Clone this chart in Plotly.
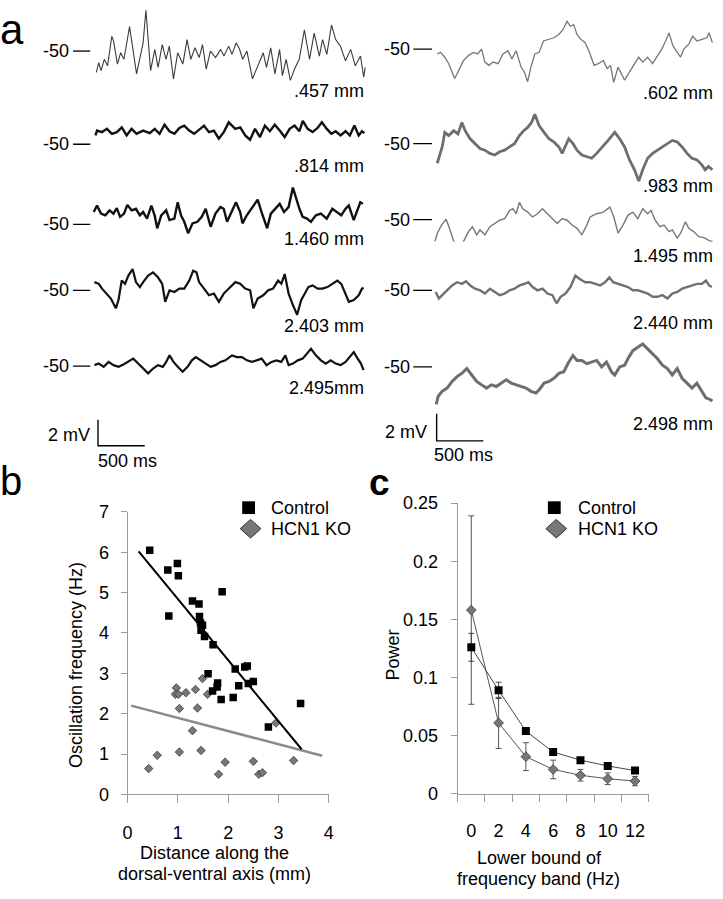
import plotly.graph_objects as go

W, H = 723, 899
FONT = "Liberation Sans, Arial, sans-serif"

# ---------------- panel a: membrane potential traces (time in ms, mV relative to -50 mV) ----------------
L457_t = [10,35,60,95,130,175,195,235,270,305,365,400,440,480,510,540,565,590,635,670,715,755,790,835,880,935,980,1020,1065,1110,1145,1185,1230,1285,1340,1375,1425,1460,1505,1540,1575,1620,1680,1740,1795,1830,1875,1920,1970,2000,2040,2085,2130,2180,2235,2290,2340,2395,2430,2475,2525,2570,2620,2675,2730,2780,2835,2870,2885]
L457_v = [-1.63,-0.88,-1.5,-0.63,-1.13,1.13,0.75,-1.0,-0.13,-0.63,1.88,0.13,-1.75,-0.38,0.63,3.13,0.38,-1.5,0.13,-1.25,0.5,-0.63,0.38,-2.13,-0.13,-1.0,0.88,-0.63,0.25,-0.5,0.5,-1.38,0.0,-0.5,0.13,-0.38,0.38,-0.25,0.63,0.18,-0.63,0.0,-2.13,-1.13,-0.13,-1.25,0.25,-1.75,0.13,-1.88,-0.63,-2.25,-1.38,-0.63,1.63,-0.63,1.38,-0.38,0.88,-0.25,2.0,0.88,0.38,-0.75,0.13,-1.13,-0.38,-2.0,-1.25]

L814_t = [0,18,70,123,176,229,282,334,387,440,510,581,634,686,739,792,845,898,950,1003,1056,1109,1162,1214,1267,1320,1373,1426,1496,1549,1602,1654,1707,1760,1813,1866,1918,1971,2024,2077,2130,2182,2218,2270,2323,2376,2422,2475,2524,2570,2622,2675,2721,2770,2816,2851,2876]
L814_v = [0.68,1.05,0.93,1.18,0.8,0.93,1.3,0.68,1.18,0.8,1.05,0.85,1.18,0.8,1.5,1.0,0.8,1.25,1.43,1.05,0.8,1.1,1.43,0.93,1.05,0.43,0.93,1.68,1.18,1.3,0.68,0.35,1.18,0.55,1.43,1.0,1.5,1.05,0.55,1.18,1.43,1.0,1.8,1.18,0.93,1.25,1.68,1.18,0.8,1.0,0.68,1.0,0.68,1.43,0.68,1.0,0.85]

L1460_t = [0,35,77,123,169,211,246,282,324,359,405,451,493,528,570,616,651,679,722,774,810,862,898,933,968,1010,1056,1109,1155,1197,1250,1302,1355,1390,1426,1478,1521,1566,1591,1637,1697,1753,1795,1855,1894,1936,1989,2035,2084,2130,2165,2200,2235,2281,2323,2376,2429,2492,2552,2605,2647,2693,2728,2781,2823,2851,2879]
L1460_v = [0.95,1.45,0.83,0.7,1.08,0.83,1.25,0.58,0.83,1.5,1.08,1.2,0.7,0.95,0.45,1.45,0.7,-0.3,0.7,1.08,0.33,0.45,1.7,0.7,0.2,-0.68,0.08,0.2,0.58,1.2,-0.18,0.83,1.33,1.2,0.2,1.08,1.7,0.95,0.08,0.7,1.33,1.9,0.95,-0.3,0.83,1.2,1.58,0.95,1.33,2.83,1.95,1.2,0.58,0.45,0.2,0.7,0.83,0.45,1.2,0.95,0.7,1.2,1.45,0.33,1.08,1.7,1.58]

L2403_t = [0,46,81,134,176,229,257,292,327,363,408,444,486,521,574,627,679,725,757,803,855,908,961,1014,1056,1091,1119,1172,1225,1278,1331,1383,1454,1507,1559,1612,1665,1700,1746,1806,1859,1911,1964,1999,2035,2077,2123,2168,2211,2253,2288,2334,2387,2439,2492,2545,2598,2640,2686,2721,2774,2826,2862,2879]
L2403_v = [0.63,0.5,0.13,-0.25,-0.63,-1.38,-0.75,0.75,0.5,1.13,1.63,0.63,0.25,0.63,1.13,1.38,1.0,0.5,-0.88,0.0,-0.13,0.13,0.13,0.75,1.5,1.38,0.63,0.13,-0.38,-0.25,-0.88,-0.25,0.25,0.63,0.5,0.13,0.0,-1.38,-0.63,-0.38,0.0,0.13,0.75,0.5,1.25,-0.25,-1.13,-1.88,-0.75,-0.25,0.25,0.38,0.13,0.13,0.25,0.5,0.75,0.5,-0.25,-0.88,-0.75,-0.38,0.13,0.2]

L2495_t = [0,46,99,151,204,257,310,363,415,468,521,574,627,679,732,767,803,845,891,943,996,1042,1084,1137,1190,1243,1295,1348,1401,1471,1524,1577,1630,1683,1735,1788,1841,1894,1947,1999,2042,2077,2123,2175,2228,2274,2316,2369,2422,2475,2527,2580,2633,2686,2732,2774,2816,2851,2879]
L2495_v = [0.08,0.2,-0.05,0.33,0.08,-0.05,0.13,0.33,0.58,0.2,-0.18,-0.55,-0.18,0.08,-0.05,0.33,0.83,0.33,-0.05,-0.43,-0.05,0.45,0.7,0.45,0.2,-0.05,0.08,0.33,0.45,0.83,0.7,0.7,0.45,0.33,0.45,0.58,0.08,0.33,0.45,0.33,0.83,0.08,0.2,0.45,0.58,0.95,1.33,0.83,0.45,0.2,0.45,0.2,0.08,0.33,0.7,1.08,0.58,0.2,-0.3]

R602_t = [0,35,81,123,187,229,282,334,387,433,475,510,553,598,651,704,757,799,845,898,933,968,1003,1045,1091,1137,1186,1250,1302,1348,1390,1426,1461,1496,1538,1584,1630,1679,1725,1778,1820,1855,1890,1936,1971,2006,2059,2112,2158,2200,2253,2306,2358,2404,2446,2482,2524,2570,2605,2640,2693,2735,2781,2834,2886,2911,2946]
R602_v = [-0.36,-0.24,-0.6,-1.08,-2.17,-1.57,-0.84,-0.48,-0.24,-0.36,0.0,-0.96,-1.2,-0.96,-1.08,-0.36,-0.12,-0.72,-0.12,-1.33,-1.69,-2.41,-1.33,-0.36,-0.24,0.6,0.72,0.84,1.08,1.45,2.05,1.69,1.81,1.08,0.72,0.48,-0.24,-1.2,-1.08,-0.84,-1.45,-1.2,-2.46,-1.33,-1.81,-2.29,-1.69,-1.08,-0.6,-0.96,-0.6,-1.08,-0.48,0.0,0.6,1.2,0.24,-0.24,-0.6,0.0,0.36,0.96,0.6,0.72,0.84,1.2,0.48]

R983_t = [0,18,53,81,123,176,222,264,299,352,405,458,510,563,616,669,722,774,827,880,926,968,1010,1045,1091,1144,1197,1250,1302,1338,1373,1408,1454,1496,1549,1602,1654,1707,1771,1830,1901,1954,2006,2059,2112,2158,2200,2253,2306,2358,2411,2464,2517,2570,2622,2675,2728,2781,2834,2869,2904,2946]
R983_v = [-1.45,-1.08,-0.24,0.84,0.6,0.96,0.72,1.57,0.96,0.36,0.0,-0.36,-0.48,-0.72,-0.84,-0.6,-0.48,-0.24,0.0,0.6,0.96,1.2,1.57,2.17,1.33,0.84,0.36,0.12,-0.24,-0.72,-0.24,0.36,0.0,-0.48,-0.84,-0.96,-1.08,-0.72,-0.24,0.24,0.84,0.36,-0.24,-1.2,-1.93,-2.77,-1.93,-1.08,-0.72,-0.48,-0.24,0.0,0.24,0.12,-0.24,-0.72,-1.08,-1.2,-1.57,-1.93,-1.69,-1.93]

R1495_t = [0,25,70,120,155,201,253,306,359,401,447,482,535,588,641,693,746,799,834,869,905,940,993,1045,1098,1151,1204,1257,1309,1362,1415,1468,1521,1573,1619,1661,1732,1802,1873,1915,1961,2013,2066,2119,2172,2225,2277,2313,2358,2408,2453,2506,2542,2594,2630,2682,2717,2770,2823,2893,2946,2971]
R1495_v = [-1.61,-1.01,-0.41,0.02,-0.65,-1.61,-2.34,-1.61,-0.89,-0.53,-1.13,-0.77,-1.13,-0.53,-0.29,-0.05,0.07,0.67,0.8,0.43,1.28,0.8,0.55,0.19,0.43,0.8,0.43,0.07,-0.29,0.07,-0.05,-0.41,-0.65,-1.13,-0.53,0.19,0.43,0.55,0.92,0.19,-1.01,-0.41,0.31,0.55,0.07,0.8,0.43,0.67,-0.05,-0.53,-0.41,-0.89,-0.77,-1.37,-1.01,-0.17,-0.65,-0.89,-1.25,-1.37,-1.61,-1.61]

R2440_t = [0,35,70,123,176,229,282,324,370,422,475,528,581,634,686,739,792,845,898,950,993,1038,1091,1144,1197,1250,1295,1338,1390,1443,1496,1542,1602,1654,1707,1760,1813,1859,1901,1954,2006,2059,2112,2165,2218,2270,2323,2376,2429,2482,2534,2587,2640,2693,2746,2798,2851,2893,2929,2957]
R2440_v = [-0.12,-0.6,-0.36,0.0,0.36,0.6,0.48,0.67,0.36,0.12,0.0,-0.24,0.12,-0.12,-0.36,-0.24,0.0,0.12,0.36,0.48,0.6,0.24,0.0,0.12,-0.24,-0.36,-0.96,-0.48,-0.24,0.24,1.08,0.84,0.6,0.6,0.48,0.36,0.6,0.96,0.6,0.48,0.36,0.24,0.0,0.0,-0.12,-0.24,-0.48,-0.48,-0.36,-0.6,-0.24,-0.12,0.12,0.24,0.36,0.48,0.48,0.72,0.36,0.24]

R2498_t = [0,21,63,116,169,222,275,327,380,433,486,539,591,644,697,750,803,855,908,961,1014,1067,1102,1155,1207,1260,1313,1366,1419,1464,1507,1559,1612,1665,1718,1771,1823,1876,1911,1964,2017,2052,2105,2158,2211,2263,2316,2369,2422,2475,2527,2580,2633,2686,2739,2791,2844,2886,2932,2957]
R2498_v = [-2.77,-2.17,-1.81,-1.57,-1.08,-0.72,-0.48,-0.12,-0.6,-1.08,-1.33,-1.57,-1.33,-1.45,-1.2,-0.96,-1.2,-1.33,-1.45,-1.57,-1.81,-1.93,-1.69,-1.2,-1.08,-0.84,-0.48,-0.36,0.36,0.84,0.48,0.48,0.24,0.36,0.48,0.0,0.36,-0.36,-0.6,0.0,0.12,0.6,1.2,1.45,1.69,1.33,0.96,0.6,0.12,-0.12,-0.6,-0.12,-0.84,-1.2,-1.57,-1.2,-1.81,-2.29,-2.41,-2.53]

left_labels = [".457 mm", ".814 mm", "1.460 mm", "2.403 mm", "2.495mm"]
right_labels = [".602 mm", ".983 mm", "1.495 mm", "2.440 mm", "2.498 mm"]
HOLD_MV = -50
SCALE_MV = 2
SCALE_MS = 500

# ---------------- panel b ----------------
ctrl_dist = [0.44,0.80,0.99,1.01,0.82,1.29,1.42,1.88,1.43,1.45,1.49,1.46,1.53,1.70,1.60,2.14,2.33,2.38,1.79,1.78,1.69,1.86,2.10,2.21,2.40,2.50,2.80,3.44]
ctrl_freq = [6.05,5.56,5.72,5.42,4.42,4.79,4.72,5.02,4.41,4.25,4.19,4.07,3.91,3.71,2.99,3.11,3.16,3.18,2.76,2.66,2.56,2.35,2.40,2.69,2.75,2.80,1.67,2.25]
ko_dist = [0.42,0.59,0.97,0.95,1.01,1.03,1.03,1.16,1.35,1.39,1.29,1.46,1.49,1.59,1.81,1.94,2.50,2.61,2.68,2.95,3.30]
ko_freq = [0.64,0.97,2.64,2.48,2.48,2.13,1.05,2.52,2.60,2.14,1.58,1.09,2.87,2.48,0.50,0.80,0.82,0.50,0.54,1.77,0.84]
ctrl_fit_x = [0.22, 3.46]
ctrl_fit_y = [6.02, 1.12]
ko_fit_x = [0.07, 3.87]
ko_fit_y = [2.20, 0.96]

# ---------------- panel c ----------------
band = [0, 2, 4, 6, 8, 10, 12]
ctrl_power = [0.126, 0.089, 0.054, 0.036, 0.029, 0.024, 0.020]
ctrl_err = [0.012, 0.007, 0.003, 0.002, 0.002, 0.002, 0.002]
ko_power = [0.158, 0.061, 0.032, 0.021, 0.016, 0.013, 0.011]
ko_err = [0.081, 0.022, 0.012, 0.008, 0.005, 0.005, 0.004]


def X(px):
    return px / W


def Y(py):
    return 1 - py / H


fig = go.Figure()
layout = {}
annotations = []
shapes = []


def txt(x, y, s, size=18, xanchor="center", yanchor="middle", angle=0, bold=False):
    annotations.append(dict(
        x=X(x), y=Y(y), xref="paper", yref="paper", text=("<b>%s</b>" % s) if bold else s,
        showarrow=False, xanchor=xanchor, yanchor=yanchor, textangle=angle, borderpad=0,
        font=dict(family=FONT, size=size, color="black")))


ax_n = [3]


def hidden_axes(x0px, xs, xmin, xmax, y0px, ys, yref, ymin, ymax):
    """Invisible axis pair placed so that value (0, yref) sits at pixel (x0px, y0px)."""
    ax_n[0] += 1
    n = ax_n[0]
    left, right = x0px + xmin * xs, x0px + xmax * xs
    if left < 0:
        left = 0
        xmin = (left - x0px) / xs
    if right > W:
        right = W
        xmax = (right - x0px) / xs
    top, bottom = y0px - (ymax - yref) * ys, y0px - (ymin - yref) * ys
    if top < 0:
        top = 0
        ymax = yref + (y0px - top) / ys
    if bottom > H:
        bottom = H
        ymin = yref + (y0px - bottom) / ys
    layout["xaxis%d" % n] = dict(domain=[X(left), X(right)], range=[xmin, xmax], visible=False,
                                 anchor="y%d" % n, fixedrange=True)
    layout["yaxis%d" % n] = dict(domain=[Y(bottom), Y(top)], range=[ymin, ymax], visible=False,
                                 anchor="x%d" % n, fixedrange=True)
    return "x%d" % n, "y%d" % n


# ---- panel a traces ----
left_traces = [(L457_t, L457_v), (L814_t, L814_v), (L1460_t, L1460_v), (L2403_t, L2403_v), (L2495_t, L2495_v)]
right_traces = [(R602_t, R602_v), (R983_t, R983_v), (R1495_t, R1495_v), (R2440_t, R2440_v), (R2498_t, R2498_v)]

col_cfg = [
    dict(traces=left_traces, labels=left_labels, x0=[91.7, 91.7, 90.0, 90.7, 90.7],
         base=[42, 137.3, 219.3, 286.7, 364.3], lab_y=[83, 160, 234.3, 322.7, 386.7],
         ppm=13.33, pms=0.0948, lab_right=365, num_right=67, dash=(69, 86.5),
         colors=["#3c3c3c", "#111111", "#111111", "#111111", "#111111"], widths=[1.1, 2.4, 2.4, 2.2, 2.2]),
    dict(traces=right_traces, labels=right_labels, x0=[438.3, 438.3, 436.0, 436.7, 437.3],
         base=[40, 136.7, 214.3, 286.7, 365], lab_y=[85, 180, 251.7, 320, 423.3],
         ppm=13.83, pms=0.0947, lab_right=719, num_right=412.5, dash=(414, 433),
         colors=["#777777", "#6e6e6e", "#777777", "#707070", "#6e6e6e"], widths=[1.3, 2.8, 1.4, 2.4, 3.0]),
]

for cfg in col_cfg:
    for i, (t, v) in enumerate(cfg["traces"]):
        xa, ya = hidden_axes(cfg["x0"][i], cfg["pms"], -40, 3100, cfg["base"][i], cfg["ppm"], HOLD_MV,
                             HOLD_MV - 3.6, HOLD_MV + 3.6)
        fig.add_trace(go.Scatter(x=t, y=[HOLD_MV + d for d in v], mode="lines", xaxis=xa, yaxis=ya,
                                 line=dict(color=cfg["colors"][i], width=cfg["widths"][i]),
                                 hoverinfo="skip", showlegend=False))
        # -50 mV reference tick and label
        shapes.append(dict(type="line", xref="paper", yref=ya, x0=X(cfg["dash"][0]), x1=X(cfg["dash"][1]),
                           y0=HOLD_MV, y1=HOLD_MV, line=dict(color="black", width=1.3)))
        annotations.append(dict(x=X(cfg["num_right"]), y=HOLD_MV, xref="paper", yref=ya,
                                text=str(HOLD_MV), showarrow=False, xanchor="right", yanchor="middle",
                                font=dict(family=FONT, size=18, color="black")))
        txt(cfg["lab_right"], cfg["lab_y"][i], cfg["labels"][i], xanchor="right")

# scale bars
for (cx, cy, ppm, pms, mv_lab, ms_lab) in [
        (94.3, 445.7, 13.33, 0.0948, (87, 434.3), (93, 461)),
        (437.7, 440.7, 13.83, 0.0947, (429, 431.7), (434, 455))]:
    xa, ya = hidden_axes(cx, pms, -30, 700, cy, ppm, 0, -0.5, 2.5)
    fig.add_trace(go.Scatter(x=[0, 0, SCALE_MS], y=[SCALE_MV, 0, 0], mode="lines", xaxis=xa, yaxis=ya,
                             line=dict(color="black", width=1.4), hoverinfo="skip", showlegend=False))
    txt(mv_lab[0], mv_lab[1], "%d mV" % SCALE_MV, xanchor="right")
    txt(ms_lab[0], ms_lab[1], "%d ms" % SCALE_MS, xanchor="left")

# ---- panel b ----
AXC = "#9a9a9a"
layout["xaxis"] = dict(domain=[X(124.3), X(328.3)], range=[0, 4], tickvals=[0, 1, 2, 3, 4],
                       showline=True, linecolor=AXC, linewidth=1, ticks="outside", ticklen=8,
                       tickcolor=AXC, showgrid=False, zeroline=False, anchor="y",
                       tickfont=dict(family=FONT, size=18, color="black"), ticklabelstandoff=14,
                       fixedrange=True)
layout["yaxis"] = dict(domain=[Y(802.3), Y(513.3)], range=[0, 7], tickvals=list(range(8)),
                       showline=True, linecolor=AXC, linewidth=1, ticks="outside", ticklen=6,
                       tickcolor=AXC, showgrid=False, zeroline=False, anchor="x",
                       tickfont=dict(family=FONT, size=18, color="black"), ticklabelstandoff=8,
                       fixedrange=True)

fig.add_trace(go.Scatter(x=ko_fit_x, y=ko_fit_y, mode="lines", line=dict(color="#8a8a8a", width=2.5),
                         xaxis="x", yaxis="y", showlegend=False))
fig.add_trace(go.Scatter(x=ko_dist, y=ko_freq, mode="markers", xaxis="x", yaxis="y", showlegend=False,
                         marker=dict(symbol="diamond", size=6.5, color="#777777",
                                     line=dict(color="#3a3a3a", width=0.8))))
fig.add_trace(go.Scatter(x=ctrl_fit_x, y=ctrl_fit_y, mode="lines", line=dict(color="black", width=2),
                         xaxis="x", yaxis="y", showlegend=False))
fig.add_trace(go.Scatter(x=ctrl_dist, y=ctrl_freq, mode="markers", xaxis="x", yaxis="y", showlegend=False,
                         marker=dict(symbol="square", size=7.5, color="black", line=dict(width=0))))

txt(72, 670, "Oscillation frequency (Hz)", angle=-90)
txt(212, 862, "Distance along the")
txt(212, 884, "dorsal-ventral axis (mm)")

# ---- panel c ----
layout["xaxis2"] = dict(domain=[X(459), X(652.7)], range=[-1, 13], tickvals=[-1, 1, 3, 5, 7, 9, 11, 13],
                        ticktext=[""] * 8, showline=True, linecolor=AXC, linewidth=1, ticks="outside",
                        ticklen=7, tickcolor=AXC, showgrid=False, zeroline=False, anchor="y2",
                        fixedrange=True)
layout["xaxis3"] = dict(domain=[X(459), X(652.7)], range=[-1, 13], tickvals=band,
                        ticktext=[str(b) for b in band], showline=False, ticks="", showgrid=False,
                        zeroline=False, anchor="y2", overlaying="x2", side="bottom",
                        tickfont=dict(family=FONT, size=18, color="black"), ticklabelstandoff=24,
                        fixedrange=True)
layout["yaxis2"] = dict(domain=[Y(801.7), Y(504.3)], range=[0, 0.25],
                        tickvals=[0, 0.05, 0.1, 0.15, 0.2, 0.25],
                        ticktext=["0", "0.05", "0.1", "0.15", "0.2", "0.25"],
                        showline=True, linecolor=AXC, linewidth=1, ticks="outside", ticklen=6,
                        tickcolor=AXC, showgrid=False, zeroline=False, anchor="x2",
                        tickfont=dict(family=FONT, size=18, color="black"), ticklabelstandoff=9,
                        fixedrange=True)

fig.add_trace(go.Scatter(x=band, y=ko_power, mode="lines+markers", xaxis="x2", yaxis="y2", showlegend=False,
                         line=dict(color="#555555", width=1),
                         error_y=dict(type="data", array=ko_err, color="#555555", thickness=1, width=3),
                         marker=dict(symbol="diamond", size=7.5, color="#777777",
                                     line=dict(color="#3a3a3a", width=0.8))))
fig.add_trace(go.Scatter(x=band, y=ctrl_power, mode="lines+markers", xaxis="x3", yaxis="y2", showlegend=False,
                         line=dict(color="#444444", width=1),
                         error_y=dict(type="data", array=ctrl_err, color="#444444", thickness=1, width=3),
                         marker=dict(symbol="square", size=8, color="black", line=dict(width=0))))

txt(393.3, 659.3, "Power", angle=-90)
txt(542, 867, "Lower bound of")
txt(541, 889, "frequency band (Hz)")

# ---- legends (b and c) ----
for (sx, dx, tx) in [(247, 249, 269), (557, 559, 580)]:
    shapes.append(dict(type="rect", xref="paper", yref="paper", x0=X(sx - 6.5), x1=X(sx + 6.5),
                       y0=Y(515.5), y1=Y(502.5), fillcolor="black", line=dict(width=0)))
    shapes.append(dict(type="path", xref="paper", yref="paper",
                       path="M %f,%f L %f,%f L %f,%f L %f,%f Z" % (
                           X(dx), Y(521), X(dx + 10.5), Y(530.5), X(dx), Y(540), X(dx - 10.5), Y(530.5)),
                       fillcolor="#777777", line=dict(color="#333333", width=1)))
    txt(tx, 509, "Control", xanchor="left")
    txt(tx, 531, "HCN1 KO", xanchor="left")

# ---- panel letters ----
txt(-6, 20, "a", size=42, xanchor="left")
txt(-6, 482, "b", size=40, xanchor="left")
txt(368, 483, "c", size=37, xanchor="left", bold=True)

fig.update_layout(width=W, height=H, margin=dict(l=0, r=0, t=0, b=0), autosize=False,
                  plot_bgcolor="white", paper_bgcolor="white", showlegend=False,
                  annotations=annotations, shapes=shapes, font=dict(family=FONT), **layout)

fig.write_html("out.html", post_script="document.body.style.margin='0px';",
               config={"displayModeBar": False})
